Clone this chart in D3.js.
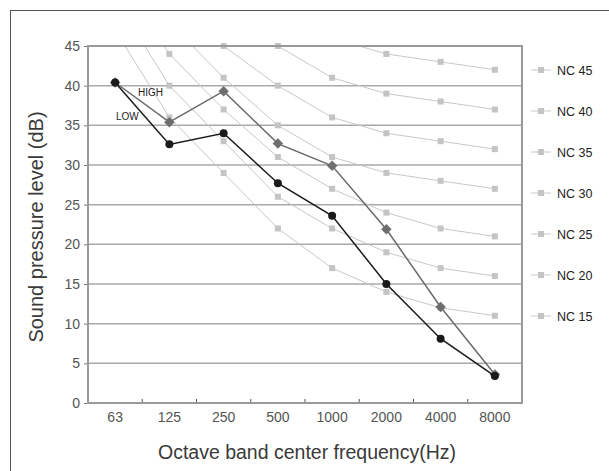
<!DOCTYPE html>
<html>
<head>
<meta charset="utf-8">
<script src="https://cdn.jsdelivr.net/npm/d3@7"></script>
<style>
  html, body { margin: 0; padding: 0; background: #fff; }
  svg { display: block; font-family: "Liberation Sans", Arial, Helvetica, sans-serif; }
</style>
</head>
<body>
<svg id="chart" width="609" height="471"></svg>
<script>
// ---- data ----
const categories = ["63", "125", "250", "500", "1000", "2000", "4000", "8000"];
const lowValues  = [40.4, 32.6, 34.0, 27.7, 23.6, 15.0, 8.1, 3.4];
const highValues = [40.4, 35.4, 39.3, 32.7, 29.9, 21.9, 12.1, 3.6];
const ncNames = ["NC 45", "NC 40", "NC 35", "NC 30", "NC 25", "NC 20", "NC 15"];
const nc45 = [67, 60, 54, 49, 46, 44, 43, 42];
const nc40 = [64, 56, 50, 45, 41, 39, 38, 37];
const nc35 = [60, 52, 45, 40, 36, 34, 33, 32];
const nc30 = [57, 48, 41, 35, 31, 29, 28, 27];
const nc25 = [54, 44, 37, 31, 27, 24, 22, 21];
const nc20 = [51, 40, 33, 26, 22, 19, 17, 16];
const nc15 = [47, 36, 29, 22, 17, 14, 12, 11];
const yTicks = [0, 5, 10, 15, 20, 25, 30, 35, 40, 45];
const yLabel = "Sound pressure level (dB)";
const xLabel = "Octave band center frequency(Hz)";

const ncSeries = [nc45, nc40, nc35, nc30, nc25, nc20, nc15];

// ---- layout ----
const svg = d3.select("#chart");
const plot = { left: 88, right: 522, top: 46, bottom: 403 };

const x = d3.scaleBand().domain(categories).range([plot.left, plot.right]).padding(0);
const y = d3.scaleLinear().domain([0, 45]).range([plot.bottom, plot.top]);
const cx = c => x(c) + x.bandwidth() / 2;

// outer frame (only left and top visible)
svg.append("rect")
  .attr("x", 10.5).attr("y", 10.5).attr("width", 900).attr("height", 900)
  .attr("fill", "none").attr("stroke", "#555").attr("stroke-width", 1);

// clip
svg.append("defs").append("clipPath").attr("id", "plotClip")
  .append("rect").attr("x", plot.left).attr("y", plot.top)
  .attr("width", plot.right - plot.left).attr("height", plot.bottom - plot.top);

// gridlines
svg.append("g").selectAll("line")
  .data(yTicks.filter(t => t > 0 && t < 45))
  .join("line")
  .attr("x1", plot.left).attr("x2", plot.right)
  .attr("y1", d => y(d)).attr("y2", d => y(d))
  .attr("stroke", "#a9a9a9").attr("stroke-width", 1.5);

// y axis
const yAxis = svg.append("g")
  .attr("transform", `translate(${plot.left},0)`)
  .call(d3.axisLeft(y).tickValues(yTicks).tickSize(4).tickPadding(4));
yAxis.select(".domain").remove();
yAxis.selectAll(".tick line").attr("stroke", "#777").attr("stroke-width", 1);
yAxis.selectAll(".tick text")
  .attr("font-size", 14).attr("fill", "#555")
  .attr("font-family", "\"Liberation Sans\", Arial, sans-serif");

// x axis (labels + inner boundary ticks)
const xAxis = svg.append("g")
  .attr("transform", `translate(0,${plot.bottom})`)
  .call(d3.axisBottom(x).tickSize(0).tickPadding(9));
xAxis.select(".domain").remove();
xAxis.selectAll(".tick text")
  .attr("font-size", 14).attr("fill", "#555")
  .attr("font-family", "\"Liberation Sans\", Arial, sans-serif");
svg.append("g").selectAll("line")
  .data(categories.slice(1))
  .join("line")
  .attr("x1", d => x(d)).attr("x2", d => x(d))
  .attr("y1", plot.bottom).attr("y2", plot.bottom - 4)
  .attr("stroke", "#555").attr("stroke-width", 1);

// NC curves
const line = d3.line().x((d, i) => cx(categories[i])).y(d => y(d));
const ncG = svg.append("g");
ncSeries.forEach(vals => {
  ncG.append("path")
    .attr("clip-path", "url(#plotClip)")
    .attr("d", line(vals))
    .attr("fill", "none").attr("stroke", "#c8c8c8").attr("stroke-width", 1);
  ncG.selectAll(null)
    .data(vals.map((v, i) => ({ v, c: categories[i] })).filter(d => d.v <= 45))
    .join("rect")
    .attr("x", d => cx(d.c) - 3).attr("y", d => y(d.v) - 3)
    .attr("width", 6).attr("height", 6)
    .attr("fill", "#c4c4c4");
});

// plot border
svg.append("rect")
  .attr("x", plot.left).attr("y", plot.top)
  .attr("width", plot.right - plot.left).attr("height", plot.bottom - plot.top)
  .attr("fill", "none").attr("stroke", "#9a9a9a").attr("stroke-width", 2);

// HIGH series
svg.append("path").attr("d", line(highValues))
  .attr("fill", "none").attr("stroke", "#6a6a6a").attr("stroke-width", 1.5);
svg.append("g").selectAll("path")
  .data(highValues)
  .join("path")
  .attr("transform", (d, i) => `translate(${cx(categories[i])},${y(d)})`)
  .attr("d", d3.symbol(d3.symbolDiamond2, 70))
  .attr("fill", "#6e6e6e");

// LOW series
svg.append("path").attr("d", line(lowValues))
  .attr("fill", "none").attr("stroke", "#1a1a1a").attr("stroke-width", 1.5);
svg.append("g").selectAll("circle")
  .data(lowValues)
  .join("circle")
  .attr("cx", (d, i) => cx(categories[i])).attr("cy", d => y(d))
  .attr("r", 4).attr("fill", "#1a1a1a");

// series labels
svg.append("text").attr("x", 138).attr("y", 96)
  .attr("font-size", 10).attr("fill", "#222").text("HIGH");
svg.append("text").attr("x", 116).attr("y", 120)
  .attr("font-size", 10).attr("fill", "#222").text("LOW");

// legend
const leg = svg.append("g").selectAll("g")
  .data(ncNames)
  .join("g")
  .attr("transform", (d, i) => `translate(531,${70 + i * 41})`);
leg.append("line").attr("x1", 0).attr("x2", 20).attr("y1", 0).attr("y2", 0)
  .attr("stroke", "#c8c8c8").attr("stroke-width", 1);
leg.append("rect").attr("x", 7).attr("y", -3).attr("width", 6).attr("height", 6)
  .attr("fill", "#c4c4c4");
leg.append("text").attr("x", 26).attr("y", 4.5)
  .attr("font-size", 12.5).attr("fill", "#222").text(d => d);

// axis titles
svg.append("text")
  .attr("transform", "translate(43,227) rotate(-90)")
  .attr("text-anchor", "middle").attr("font-size", 20).attr("fill", "#3a3a3a")
  .text(yLabel);
svg.append("text")
  .attr("x", 307).attr("y", 459)
  .attr("text-anchor", "middle").attr("font-size", 19.5).attr("fill", "#3a3a3a")
  .text(xLabel);
</script>
</body>
</html>
